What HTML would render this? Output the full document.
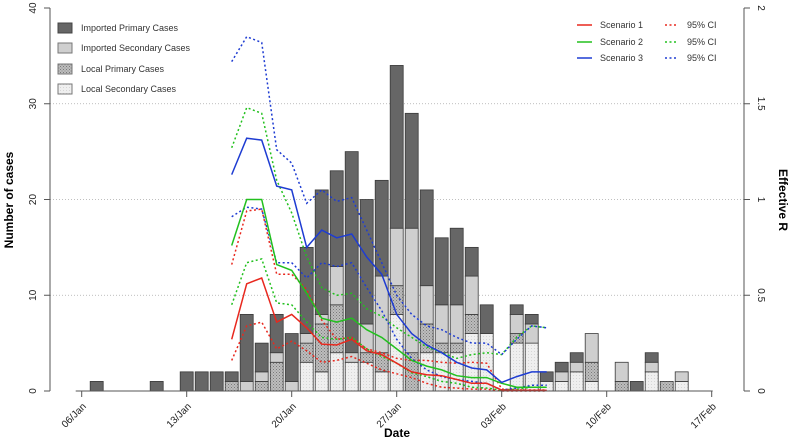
<!DOCTYPE html>
<html><head><meta charset="utf-8"><style>
body{margin:0;background:#fff}
svg{display:block;font-family:"Liberation Sans",Arial,sans-serif}
</style></head><body>
<svg id="chart" width="792" height="440" viewBox="0 0 792 440">
<defs>
<pattern id="hatch" width="3" height="3" patternUnits="userSpaceOnUse"><rect width="3" height="3" fill="#bdbdbd"/><rect width="1" height="1" fill="#7a7a7a"/><rect x="1.5" y="1.5" width="1" height="1" fill="#888"/></pattern>
<pattern id="dots" width="3" height="3" patternUnits="userSpaceOnUse"><rect width="3" height="3" fill="#efefef"/><rect width="1" height="1" fill="#d6d6d6"/></pattern>
</defs>
<g id="grid"></g>
<g id="bars"></g>
<g id="lines"></g>
<g id="axes"></g>
<g font-size="9" fill="#333">
<rect x="58" y="23" width="14" height="10" fill="#666" stroke="#444"/>
<text x="81" y="31">Imported Primary Cases</text>
<rect x="58" y="43" width="14" height="10" fill="#cfcfcf" stroke="#777"/>
<text x="81" y="51">Imported Secondary Cases</text>
<rect x="58" y="64" width="14" height="10" fill="url(#hatch)" stroke="#777"/>
<text x="81" y="72">Local Primary Cases</text>
<rect x="58" y="84" width="14" height="10" fill="url(#dots)" stroke="#777"/>
<text x="81" y="92">Local Secondary Cases</text>
</g>
<g font-size="9" fill="#333">
<line x1="577" y1="25" x2="592" y2="25" stroke="#e8281e" stroke-width="1.5"/>
<text x="600" y="28">Scenario 1</text>
<line x1="577" y1="42" x2="592" y2="42" stroke="#22c01e" stroke-width="1.5"/>
<text x="600" y="45">Scenario 2</text>
<line x1="577" y1="58" x2="592" y2="58" stroke="#1e3cd2" stroke-width="1.5"/>
<text x="600" y="61">Scenario 3</text>
<line x1="665" y1="25" x2="678" y2="25" stroke="#e8281e" stroke-width="1.5" stroke-dasharray="2,2.5"/>
<text x="687" y="28">95% CI</text>
<line x1="665" y1="42" x2="678" y2="42" stroke="#22c01e" stroke-width="1.5" stroke-dasharray="2,2.5"/>
<text x="687" y="45">95% CI</text>
<line x1="665" y1="58" x2="678" y2="58" stroke="#1e3cd2" stroke-width="1.5" stroke-dasharray="2,2.5"/>
<text x="687" y="61">95% CI</text>
</g>
<text x="0" y="0" transform="translate(13,200) rotate(-90)" text-anchor="middle" font-size="12" font-weight="bold">Number of cases</text>
<text x="0" y="0" transform="translate(779,200) rotate(90)" text-anchor="middle" font-size="12" font-weight="bold">Effective R</text>
<text x="397" y="437" text-anchor="middle" font-size="12" font-weight="bold">Date</text>
</svg>
<script>
// days since 06/Jan
const barDays = [1,5,7,8,9,10,11,12,13,14,15,16,17,18,19,20,21,22,23,24,25,26,27,29,30,31,32,33,34,36,37,38,39,40];
const localSecondary = [0,0,0,0,0,0,0,0,0,0,3,2,4,3,3,2,8,0,4,4,4,6,6,5,5,1,1,2,1,0,0,2,0,1];
const localPrimary   = [0,0,0,0,0,1,0,1,3,0,2,5,5,0,1,2,3,4,3,1,1,2,0,1,0,0,0,0,2,1,0,0,1,0];
const importedSecondary = [0,0,0,0,0,0,1,1,1,1,1,1,4,1,3,8,6,13,4,4,4,4,0,2,2,0,1,1,3,2,0,1,0,1];
const importedPrimary   = [1,1,2,2,2,1,7,3,4,5,9,13,10,21,13,10,17,12,10,7,8,3,3,1,1,1,1,1,0,0,1,1,0,0];
const rDays = [10,11,12,13,14,15,16,17,18,19,20,21,22,23,24,25,26,27,28,29,30,31];
const r1 =    [0.27,0.56,0.59,0.36,0.40,0.33,0.245,0.24,0.27,0.21,0.19,0.145,0.10,0.085,0.08,0.06,0.04,0.04,0.005,0.003,0.003,0.003];
const r1lo =  [0.16,0.34,0.36,0.22,0.26,0.21,0.15,0.16,0.18,0.145,0.11,0.09,0.07,0.04,0.02,0.015,0.01,0.01,0.0,0.0,0.0,0.0];
const r1hi =  [0.66,0.94,0.95,0.61,0.61,0.53,0.37,0.27,0.28,0.22,0.20,0.17,0.16,0.16,0.15,0.145,0.15,0.145,0.01,0.005,0.005,0.005];
const r2 =    [0.76,1.0,1.0,0.66,0.63,0.51,0.38,0.36,0.38,0.32,0.28,0.22,0.16,0.13,0.11,0.08,0.07,0.07,0.04,0.02,0.02,0.02];
const r2lo =  [0.45,0.67,0.69,0.46,0.45,0.36,0.28,0.27,0.28,0.22,0.18,0.145,0.095,0.075,0.05,0.04,0.02,0.015,0.005,0.01,0.02,0.02];
const r2hi =  [1.27,1.48,1.45,1.10,0.93,0.70,0.54,0.50,0.51,0.43,0.39,0.33,0.28,0.23,0.20,0.17,0.19,0.20,0.19,0.28,0.34,0.33];
const r3 =    [1.13,1.32,1.31,1.07,1.05,0.75,0.84,0.80,0.82,0.70,0.61,0.40,0.30,0.24,0.20,0.15,0.12,0.11,0.045,0.075,0.10,0.10];
const r3lo =  [0.91,0.96,0.95,0.67,0.67,0.59,0.67,0.65,0.67,0.54,0.42,0.27,0.17,0.11,0.075,0.06,0.05,0.04,0.005,0.015,0.03,0.03];
const r3hi =  [1.72,1.85,1.82,1.26,1.19,0.98,1.05,0.99,1.01,0.84,0.67,0.50,0.40,0.34,0.32,0.28,0.25,0.25,0.19,0.27,0.34,0.33];
const xTickDays = [0,7,14,21,28,35,42];
const xTickLabels = ["06/Jan","13/Jan","20/Jan","27/Jan","03/Feb","10/Feb","17/Feb"];
const yTicks = [0,10,20,30,40];
const rTicks = [0,0.5,1,1.5,2];
const rTickLabels = ["0","0.5","1","1.5","2"];

const NS="http://www.w3.org/2000/svg";
const X=d=>81.7+15*d;
const Y=v=>391-v*9.575;
const YR=r=>391-r*191.5;
function mk(tag,attrs,parent){const e=document.createElementNS(NS,tag);for(const k in attrs)e.setAttribute(k,attrs[k]);parent.appendChild(e);return e;}
const grid=document.getElementById('grid'),bars=document.getElementById('bars'),lines=document.getElementById('lines'),axes=document.getElementById('axes');
[0.5,1,1.5].forEach(r=>{const l=mk('line',{x1:50,x2:744,y1:YR(r),y2:YR(r),stroke:'#aaa','stroke-width':0.8,'stroke-dasharray':'1,2'},grid);

});
const segs=[[localSecondary,'url(#dots)'],[localPrimary,'url(#hatch)'],[importedSecondary,'#cfcfcf'],[importedPrimary,'#666']];
barDays.forEach((d,i)=>{let base=0;segs.forEach(([arr,fill])=>{const v=arr[i];if(v>0){const r=mk('rect',{x:X(d)-6.5,y:Y(base+v),width:13,height:Y(base)-Y(base+v),fill:fill,stroke:'#3a3a3a','stroke-width':0.8},bars);

}base+=v;});});
function path(arr,color,dash,name){const d=arr.map((r,i)=>(i?'L':'M')+X(rDays[i]).toFixed(1)+','+YR(r).toFixed(1)).join('');
const p=mk('path',{d:d,fill:'none',stroke:color,'stroke-width':1.5},lines);if(dash)p.setAttribute('stroke-dasharray','2,2.5');

}
path(r1lo,'#e8281e',1,'scenario-1-ci-lower');path(r1hi,'#e8281e',1,'scenario-1-ci-upper');
path(r2lo,'#22c01e',1,'scenario-2-ci-lower');path(r2hi,'#22c01e',1,'scenario-2-ci-upper');
path(r3lo,'#1e3cd2',1,'scenario-3-ci-lower');path(r3hi,'#1e3cd2',1,'scenario-3-ci-upper');
path(r1,'#e8281e',0,'scenario-1-line');path(r2,'#22c01e',0,'scenario-2-line');path(r3,'#1e3cd2',0,'scenario-3-line');
const ax='#555';
mk('line',{x1:X(xTickDays[0])-6,x2:X(xTickDays[xTickDays.length-1])+1,y1:391,y2:391,stroke:ax},axes);
xTickDays.forEach((d,i)=>{mk('line',{x1:X(d),x2:X(d),y1:391,y2:397,stroke:ax},axes);
const t=mk('text',{transform:`translate(${X(d)+5},${407}) rotate(-45)`,'text-anchor':'end','font-size':10,fill:'#222'},axes);t.textContent=xTickLabels[i];

});
mk('line',{x1:50,x2:50,y1:Y(0),y2:Y(40),stroke:ax},axes);
yTicks.forEach(v=>{mk('line',{x1:44,x2:50,y1:Y(v),y2:Y(v),stroke:ax},axes);
const t=mk('text',{transform:`translate(36,${Y(v)}) rotate(-90)`,'text-anchor':'middle','font-size':10,fill:'#222'},axes);t.textContent=v;

});
mk('line',{x1:744,x2:744,y1:YR(0),y2:YR(2),stroke:ax},axes);
rTicks.forEach((r,i)=>{mk('line',{x1:744,x2:750,y1:YR(r),y2:YR(r),stroke:ax},axes);
const t=mk('text',{transform:`translate(758,${YR(r)}) rotate(90)`,'text-anchor':'middle','font-size':10,fill:'#222'},axes);t.textContent=rTickLabels[i];

});
</script>
</body></html>
